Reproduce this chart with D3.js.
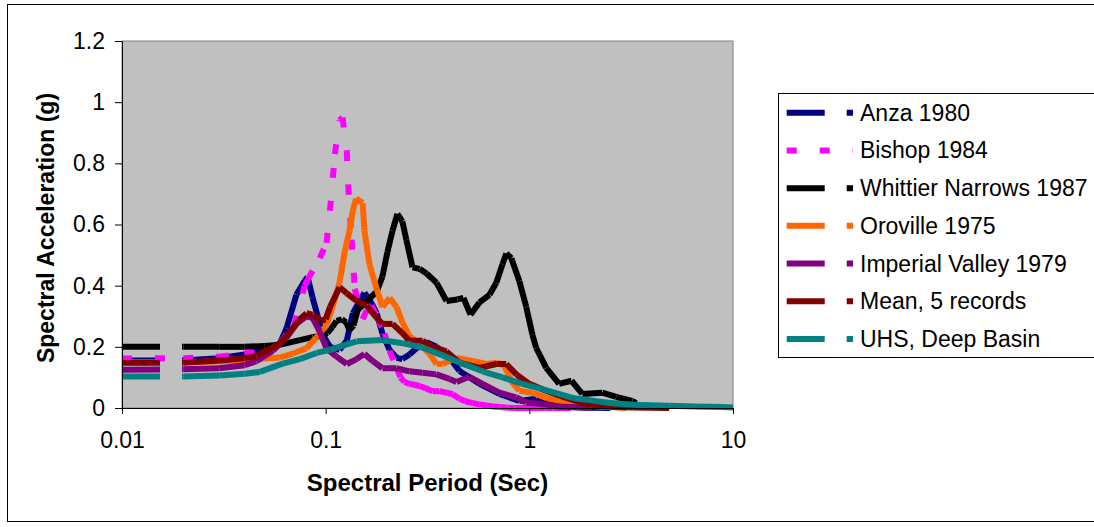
<!DOCTYPE html>
<html>
<head>
<meta charset="utf-8">
<script src="https://cdn.jsdelivr.net/npm/d3@7"></script>
<style>
  body { margin: 0; background: #fff; }
  svg text { font-family: Arial, "Liberation Sans", sans-serif; fill: #000; }
</style>
</head>
<body>
<svg id="chart" width="1094" height="527"></svg>
<script>
// ── Data (period in sec, spectral acceleration in g) ─────────────────────
const periodTicks = [0.01, 0.1, 1, 10];
const saTicks     = [0, 0.2, 0.4, 0.6, 0.8, 1, 1.2];

const anza = [
  [0.01,0.155],[0.02,0.155],[0.03,0.163],[0.04,0.175],[0.05,0.19],[0.0595,0.21],
  [0.0642,0.26],[0.0718,0.37],[0.0789,0.416],[0.0816,0.428],[0.0863,0.36],[0.0914,0.30],
  [0.0967,0.24],[0.105,0.20],[0.117,0.19],[0.127,0.22],[0.136,0.31],[0.147,0.35],
  [0.155,0.377],[0.164,0.355],[0.178,0.31],[0.19,0.243],[0.206,0.19],[0.223,0.164],
  [0.238,0.16],[0.258,0.175],[0.279,0.195],[0.313,0.215],[0.35,0.2],[0.392,0.177],
  [0.454,0.121],[0.569,0.079],[0.713,0.046],[0.893,0.023],[1.08,0.03],[1.21,0.013],
  [1.57,0.003],[2.0,0.001],[2.5,0]
];
const bishop = [
  [0.01,0.162],[0.02,0.163],[0.03,0.168],[0.04,0.178],[0.05,0.19],[0.06,0.215],
  [0.07,0.27],[0.0789,0.40],[0.0816,0.42],[0.0935,0.49],[0.101,0.54],[0.105,0.645],
  [0.111,0.83],[0.117,0.94],[0.121,0.95],[0.127,0.84],[0.129,0.73],[0.134,0.55],
  [0.139,0.39],[0.152,0.29],[0.159,0.32],[0.168,0.335],[0.18,0.295],[0.195,0.243],
  [0.206,0.187],[0.223,0.131],[0.233,0.10],[0.244,0.085],[0.258,0.079],[0.273,0.076],
  [0.289,0.072],[0.309,0.065],[0.335,0.055],[0.362,0.055],[0.392,0.05],[0.42,0.045],
  [0.454,0.03],[0.486,0.022],[0.526,0.016],[0.569,0.012],[0.615,0.008],[0.666,0.005],
  [0.721,0.003],[0.78,0.001],[0.844,0],[0.9,0],[1.0,0],[1.1,0],[1.2,0],[1.3,0],
  [1.45,0],[1.6,0]
];
const whittier = [
  [0.01,0.2],[0.02,0.2],[0.03,0.2],[0.04,0.2],[0.05,0.203],[0.06,0.207],[0.0746,0.222],
  [0.0863,0.232],[0.095,0.235],[0.102,0.245],[0.108,0.265],[0.113,0.285],[0.12,0.29],
  [0.126,0.28],[0.131,0.255],[0.137,0.27],[0.1435,0.32],[0.159,0.35],[0.178,0.38],
  [0.19,0.43],[0.201,0.51],[0.213,0.58],[0.225,0.635],[0.238,0.61],[0.249,0.55],
  [0.267,0.46],[0.289,0.455],[0.313,0.44],[0.35,0.41],[0.392,0.35],[0.444,0.355],
  [0.475,0.36],[0.514,0.305],[0.569,0.345],[0.637,0.37],[0.689,0.41],[0.738,0.47],
  [0.771,0.505],[0.816,0.49],[0.893,0.415],[0.966,0.33],[1.035,0.24],[1.08,0.197],
  [1.21,0.131],[1.4,0.079],[1.61,0.089],[1.82,0.046],[2.28,0.05],[2.67,0.036],
  [3.2,0.023],[3.35,0.016]
];
const oroville = [
  [0.01,0.15],[0.02,0.15],[0.03,0.152],[0.04,0.157],[0.0457,0.16],[0.0595,0.165],
  [0.0689,0.178],[0.0804,0.195],[0.09,0.23],[0.1008,0.27],[0.108,0.33],[0.117,0.41],
  [0.124,0.51],[0.131,0.58],[0.136,0.646],[0.141,0.685],[0.152,0.67],[0.155,0.58],
  [0.164,0.47],[0.178,0.39],[0.19,0.33],[0.206,0.36],[0.223,0.33],[0.238,0.28],
  [0.258,0.235],[0.289,0.21],[0.324,0.177],[0.35,0.144],[0.375,0.144],[0.439,0.164],
  [0.526,0.154],[0.615,0.144],[0.697,0.148],[0.754,0.138],[0.816,0.089],[0.893,0.056],
  [1.035,0.05],[1.21,0.033],[1.4,0.023],[1.63,0.013],[2.2,0.005],[3.0,0]
];
const imperial = [
  [0.01,0.125],[0.02,0.127],[0.03,0.13],[0.04,0.14],[0.0457,0.153],[0.055,0.187],
  [0.0642,0.23],[0.0718,0.275],[0.0804,0.30],[0.0863,0.295],[0.0935,0.25],[0.101,0.195],
  [0.113,0.168],[0.127,0.144],[0.142,0.16],[0.155,0.177],[0.17,0.154],[0.19,0.13],
  [0.222,0.13],[0.258,0.12],[0.299,0.115],[0.349,0.11],[0.405,0.095],[0.439,0.085],
  [0.508,0.102],[0.589,0.079],[0.713,0.05],[0.861,0.035],[0.966,0.018],[1.157,0.013],
  [1.4,0.005],[2.0,0]
];
const meanFive = [
  [0.01,0.148],[0.02,0.148],[0.03,0.155],[0.04,0.163],[0.0457,0.17],[0.0595,0.21],
  [0.0689,0.26],[0.0746,0.29],[0.0806,0.31],[0.0863,0.305],[0.0945,0.285],[0.1,0.29],
  [0.105,0.33],[0.117,0.395],[0.127,0.375],[0.142,0.35],[0.159,0.335],[0.178,0.295],
  [0.19,0.275],[0.213,0.275],[0.238,0.245],[0.258,0.22],[0.299,0.22],[0.335,0.2],
  [0.392,0.185],[0.454,0.148],[0.569,0.131],[0.689,0.144],[0.771,0.144],[0.863,0.11],
  [1.0,0.079],[1.21,0.056],[1.52,0.033],[1.9,0.013],[2.38,0.005],[3.2,0.002],
  [4.0,0.001],[4.86,0]
];
const uhs = [
  [0.01,0.103],[0.02,0.103],[0.03,0.106],[0.04,0.112],[0.0475,0.118],[0.0615,0.145],
  [0.0746,0.16],[0.0903,0.18],[0.105,0.19],[0.114,0.198],[0.142,0.218],[0.19,0.222],
  [0.238,0.212],[0.299,0.198],[0.375,0.172],[0.47,0.145],[0.589,0.12],[0.738,0.1],
  [0.924,0.079],[1.157,0.062],[1.63,0.033],[2.0,0.025],[2.38,0.018],[2.76,0.014],
  [3.5,0.01],[4.86,0.007],[6.5,0.005],[8.83,0.003],[10,0.002]
];

const seriesNames  = ['Anza 1980','Bishop 1984','Whittier Narrows 1987','Oroville 1975',
                      'Imperial Valley 1979','Mean, 5 records','UHS, Deep Basin'];
const seriesData   = [anza, bishop, whittier, oroville, imperial, meanFive, uhs];
const seriesColors = ['#000080','#ff00ff','#000000','#ff6600','#800080','#800000','#008080'];
// long dash for all but Bishop (short dash); restarts at every data point like Excel
const seriesDash   = ['38,22','10,23','38,22','38,22','38,22','38,22','38,22'];

// ── Layout ───────────────────────────────────────────────────────────────
const svg = d3.select('#chart');
const plot = { left: 122, right: 733, top: 41, bottom: 408 };

const x = d3.scaleLog().domain([0.01, 10]).range([plot.left, plot.right]);
const y = d3.scaleLinear().domain([0, 1.2]).range([plot.bottom, plot.top]);

// outer frame
svg.append('rect')
  .attr('x', 7.5).attr('y', 4.5).attr('width', 1100).attr('height', 517)
  .attr('fill', '#fff').attr('stroke', '#000').attr('stroke-width', 1);

// plot background
svg.append('rect')
  .attr('x', plot.left).attr('y', plot.top)
  .attr('width', plot.right - plot.left).attr('height', plot.bottom - plot.top)
  .attr('fill', '#c0c0c0').attr('stroke', '#808080').attr('stroke-width', 1);

// ── Series (each segment drawn alone so the dash restarts per point) ─────
const lines = svg.append('g');
seriesData.forEach((data, i) => {
  lines.append('g').selectAll('line')
    .data(d3.pairs(data))
    .join('line')
    .attr('x1', d => x(d[0][0])).attr('y1', d => y(d[0][1]))
    .attr('x2', d => x(d[1][0])).attr('y2', d => y(d[1][1]))
    .attr('stroke', seriesColors[i])
    .attr('stroke-width', 6)
    .attr('stroke-dasharray', seriesDash[i]);
});

// ── Axes ─────────────────────────────────────────────────────────────────
const fmt = d3.format('~g');

const yAxis = svg.append('g')
  .attr('transform', `translate(${plot.left},0)`)
  .call(d3.axisLeft(y).tickValues(saTicks).tickSize(7).tickSizeOuter(0).tickPadding(10).tickFormat(fmt));

const xAxis = svg.append('g')
  .attr('transform', `translate(0,${plot.bottom})`)
  .call(d3.axisBottom(x).tickValues(periodTicks).tickSize(6).tickSizeOuter(0).tickPadding(18).tickFormat(fmt));

[yAxis, xAxis].forEach(a => {
  a.attr('font-family', 'Arial, "Liberation Sans", sans-serif').attr('font-size', 23);
  a.selectAll('path, line').attr('stroke', '#000');
});

// axis titles
svg.append('text')
  .attr('x', (plot.left + plot.right) / 2).attr('y', 491)
  .attr('text-anchor', 'middle')
  .attr('font-size', 24).attr('font-weight', 'bold')
  .text('Spectral Period (Sec)');

svg.append('text')
  .attr('transform', 'translate(54,228) rotate(-90)')
  .attr('text-anchor', 'middle')
  .attr('font-size', 23).attr('font-weight', 'bold')
  .text('Spectral Acceleration (g)');

// ── Legend ───────────────────────────────────────────────────────────────
const legend = svg.append('g');
legend.append('rect')
  .attr('x', 778.5).attr('y', 93.5).attr('width', 330).attr('height', 264)
  .attr('fill', '#fff').attr('stroke', '#000').attr('stroke-width', 1);

const rowY = d3.scaleLinear().domain([0, 6]).range([112.7, 339]);
const rows = legend.selectAll('g.row')
  .data(seriesNames)
  .join('g')
  .attr('class', 'row')
  .attr('transform', (d, i) => `translate(0,${rowY(i)})`);

rows.append('line')
  .attr('x1', 786.7).attr('x2', 853).attr('y1', 0).attr('y2', 0)
  .attr('stroke', (d, i) => seriesColors[i])
  .attr('stroke-width', 6)
  .attr('stroke-dasharray', (d, i) => seriesDash[i]);

rows.append('text')
  .attr('x', 860).attr('y', 8)
  .attr('font-size', 23)
  .text(d => d);
</script>
</body>
</html>
